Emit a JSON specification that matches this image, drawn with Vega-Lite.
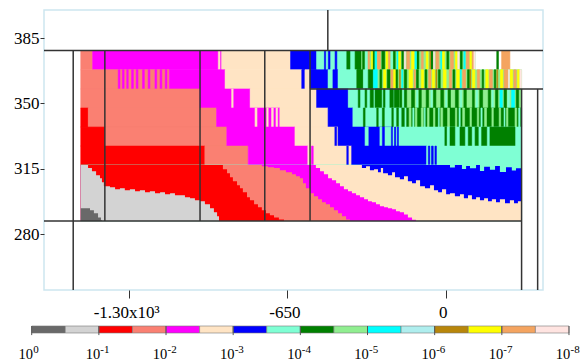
{
"$schema": "https://vega.github.io/schema/vega-lite/v6.json",
"width": 499, "height": 280,
"autosize": {"type": "none"},
"padding": {"left": 44, "top": 10, "right": 45, "bottom": 73},
"config": {
 "font": "Liberation Serif",
 "view": {"stroke": "#cde6f0", "strokeWidth": 1.5},
 "axis": {"domain": false, "grid": false, "labelFont": "Liberation Serif", "labelFontSize": 17, "labelColor": "#000", "tickColor": "#333", "labelFlush": false},
 "axisX": {"tickSize": 8, "labelPadding": 6, "labelOffset": -3},
 "axisY": {"tickSize": 4, "labelPadding": 1}
},
"datasets": {
 "rows": [{"r":1,"y":368.0,"y2":378.3},{"r":2,"y":357.7,"y2":368.0},{"r":3,"y":347.5,"y2":357.7},{"r":4,"y":337.3,"y2":347.5},{"r":5,"y":327.1,"y2":337.3},{"r":6,"y":317.0,"y2":327.1},{"r":7,"y":287.0,"y2":317.0}],
 "cells": [
  {"r":1,"x":-1499,"x2":-1450,"c":3},{"r":1,"x":-1450,"x2":-920,"c":4},{"r":1,"x":-934,"x2":-927,"c":5},{"r":1,"x":-920,"x2":-637,"c":5},{"r":1,"x":-637,"x2":-530,"c":6},{"r":1,"x":-530,"x2":-345,"c":7},
  {"r":1,"x":-498,"x2":-493,"c":6},{"r":1,"x":-482,"x2":-475,"c":6},{"r":1,"x":-454,"x2":-447,"c":6},{"r":1,"x":-406,"x2":-393,"c":8},{"r":1,"x":-372,"x2":-345,"c":8},
  {"r":1,"x":-345,"x2":121,"c":9},
  {"r":1,"x":-341,"x2":-333,"c":8},{"r":1,"x":-300,"x2":-292,"c":8},{"r":1,"x":-262,"x2":-250,"c":8},{"r":1,"x":-215,"x2":-207,"c":8},{"r":1,"x":-180,"x2":-172,"c":8},{"r":1,"x":-118,"x2":-110,"c":8},{"r":1,"x":-60,"x2":-52,"c":8},{"r":1,"x":5,"x2":13,"c":8},{"r":1,"x":60,"x2":68,"c":8},
  {"r":1,"x":-320,"x2":-312,"c":14},{"r":1,"x":-280,"x2":-268,"c":14},{"r":1,"x":-235,"x2":-227,"c":14},{"r":1,"x":-160,"x2":-148,"c":14},{"r":1,"x":-100,"x2":-92,"c":14},{"r":1,"x":-40,"x2":-28,"c":14},{"r":1,"x":20,"x2":32,"c":14},{"r":1,"x":85,"x2":97,"c":14},{"r":1,"x":108,"x2":116,"c":14},
  {"r":1,"x":-305,"x2":-300,"c":13},{"r":1,"x":-245,"x2":-238,"c":13},{"r":1,"x":-195,"x2":-185,"c":13},{"r":1,"x":-140,"x2":-130,"c":13},{"r":1,"x":-80,"x2":-72,"c":13},{"r":1,"x":-15,"x2":-5,"c":13},{"r":1,"x":40,"x2":48,"c":13},{"r":1,"x":100,"x2":106,"c":13},
  {"r":1,"x":-290,"x2":-284,"c":10},{"r":1,"x":-200,"x2":-196,"c":10},{"r":1,"x":-125,"x2":-120,"c":10},{"r":1,"x":-20,"x2":-16,"c":10},{"r":1,"x":75,"x2":80,"c":10},
  {"r":1,"x":-330,"x2":-322,"c":7},{"r":1,"x":-225,"x2":-218,"c":7},
  {"r":1,"x":-170,"x2":-165,"c":15},{"r":1,"x":-50,"x2":-45,"c":15},{"r":1,"x":50,"x2":56,"c":15},{"r":1,"x":116,"x2":121,"c":15},
  {"r":1,"x":-65,"x2":-62,"c":12},
  {"r":1,"x":210,"x2":217,"c":8},{"r":1,"x":230,"x2":264,"c":14},

  {"r":2,"x":-1499,"x2":-1135,"c":3},
  {"r":2,"x":-1345,"x2":-1338,"c":4},{"r":2,"x":-1328,"x2":-1321,"c":4},{"r":2,"x":-1310,"x2":-1304,"c":4},{"r":2,"x":-1290,"x2":-1283,"c":4},{"r":2,"x":-1271,"x2":-1264,"c":4},{"r":2,"x":-1245,"x2":-1238,"c":4},{"r":2,"x":-1222,"x2":-1215,"c":4},{"r":2,"x":-1194,"x2":-1187,"c":4},{"r":2,"x":-1173,"x2":-1166,"c":4},{"r":2,"x":-1152,"x2":-1145,"c":4},
  {"r":2,"x":-1135,"x2":-906,"c":4},{"r":2,"x":-906,"x2":-591,"c":5},{"r":2,"x":-591,"x2":-578,"c":6},{"r":2,"x":-578,"x2":-557,"c":5},{"r":2,"x":-557,"x2":-483,"c":6},{"r":2,"x":-483,"x2":-463,"c":7},{"r":2,"x":-463,"x2":-442,"c":6},{"r":2,"x":-442,"x2":-365,"c":7},{"r":2,"x":-365,"x2":-338,"c":8},{"r":2,"x":-338,"x2":-318,"c":7},{"r":2,"x":-318,"x2":-297,"c":8},{"r":2,"x":-297,"x2":-278,"c":10},
  {"r":2,"x":-278,"x2":312,"c":9},
  {"r":2,"x":-270,"x2":-262,"c":8},{"r":2,"x":-240,"x2":-228,"c":8},{"r":2,"x":-205,"x2":-197,"c":8},{"r":2,"x":-170,"x2":-160,"c":8},{"r":2,"x":-120,"x2":-112,"c":8},{"r":2,"x":-85,"x2":-77,"c":8},{"r":2,"x":-30,"x2":-22,"c":8},{"r":2,"x":30,"x2":38,"c":8},{"r":2,"x":90,"x2":98,"c":8},{"r":2,"x":150,"x2":156,"c":8},{"r":2,"x":200,"x2":206,"c":8},
  {"r":2,"x":-255,"x2":-245,"c":13},{"r":2,"x":-215,"x2":-207,"c":13},{"r":2,"x":-150,"x2":-136,"c":13},{"r":2,"x":-100,"x2":-90,"c":13},{"r":2,"x":-55,"x2":-45,"c":13},{"r":2,"x":-10,"x2":2,"c":13},{"r":2,"x":45,"x2":57,"c":13},{"r":2,"x":110,"x2":120,"c":13},{"r":2,"x":165,"x2":175,"c":13},{"r":2,"x":225,"x2":235,"c":13},{"r":2,"x":265,"x2":275,"c":13},{"r":2,"x":295,"x2":303,"c":13},
  {"r":2,"x":-225,"x2":-217,"c":14},{"r":2,"x":-130,"x2":-124,"c":14},{"r":2,"x":-70,"x2":-60,"c":14},{"r":2,"x":15,"x2":25,"c":14},{"r":2,"x":70,"x2":82,"c":14},{"r":2,"x":130,"x2":140,"c":14},{"r":2,"x":180,"x2":192,"c":14},{"r":2,"x":240,"x2":256,"c":14},{"r":2,"x":280,"x2":290,"c":14},
  {"r":2,"x":-190,"x2":-186,"c":12},{"r":2,"x":-40,"x2":-36,"c":12},{"r":2,"x":100,"x2":104,"c":12},{"r":2,"x":210,"x2":214,"c":12},
  {"r":2,"x":-180,"x2":-176,"c":10},{"r":2,"x":60,"x2":64,"c":10},
  {"r":2,"x":258,"x2":262,"c":15},{"r":2,"x":305,"x2":312,"c":15},

  {"r":3,"x":-1499,"x2":-1009,"c":3},{"r":3,"x":-1009,"x2":-803,"c":4},{"r":3,"x":-879,"x2":-873,"c":5},{"r":3,"x":-803,"x2":-530,"c":5},{"r":3,"x":-530,"x2":-400,"c":6},{"r":3,"x":-400,"x2":-188,"c":7},
  {"r":3,"x":-359,"x2":-352,"c":8},{"r":3,"x":-331,"x2":-324,"c":8},{"r":3,"x":-310,"x2":-297,"c":8},{"r":3,"x":-290,"x2":-263,"c":8},{"r":3,"x":-256,"x2":-249,"c":8},{"r":3,"x":-229,"x2":-215,"c":8},{"r":3,"x":-211,"x2":-188,"c":8},
  {"r":3,"x":-188,"x2":312,"c":9},
  {"r":3,"x":-188,"x2":-180,"c":8},{"r":3,"x":-172,"x2":-160,"c":8},{"r":3,"x":-140,"x2":-128,"c":8},{"r":3,"x":-110,"x2":-100,"c":8},{"r":3,"x":-80,"x2":-70,"c":8},{"r":3,"x":-50,"x2":-40,"c":8},{"r":3,"x":-20,"x2":-8,"c":8},{"r":3,"x":10,"x2":20,"c":8},{"r":3,"x":40,"x2":52,"c":8},{"r":3,"x":75,"x2":85,"c":8},{"r":3,"x":110,"x2":118,"c":8},{"r":3,"x":140,"x2":152,"c":8},{"r":3,"x":175,"x2":185,"c":8},{"r":3,"x":205,"x2":215,"c":8},{"r":3,"x":240,"x2":250,"c":8},{"r":3,"x":290,"x2":300,"c":8},
  {"r":3,"x":-176,"x2":-172,"c":7},{"r":3,"x":-120,"x2":-114,"c":7},{"r":3,"x":-60,"x2":-55,"c":7},{"r":3,"x":0,"x2":5,"c":7},{"r":3,"x":60,"x2":66,"c":7},{"r":3,"x":125,"x2":132,"c":7},{"r":3,"x":190,"x2":196,"c":7},{"r":3,"x":255,"x2":262,"c":7},
  {"r":3,"x":223,"x2":233,"c":10},{"r":3,"x":271,"x2":283,"c":10},

  {"r":4,"x":-1499,"x2":-1468,"c":2},{"r":4,"x":-1468,"x2":-941,"c":3},{"r":4,"x":-941,"x2":-681,"c":4},
  {"r":4,"x":-783,"x2":-775,"c":5},{"r":4,"x":-735,"x2":-729,"c":5},{"r":4,"x":-715,"x2":-708,"c":5},{"r":4,"x":-697,"x2":-690,"c":5},
  {"r":4,"x":-681,"x2":-483,"c":5},{"r":4,"x":-483,"x2":-381,"c":6},{"r":4,"x":-381,"x2":-160,"c":7},
  {"r":4,"x":-338,"x2":-331,"c":8},{"r":4,"x":-283,"x2":-277,"c":8},{"r":4,"x":-260,"x2":-252,"c":8},{"r":4,"x":-221,"x2":-215,"c":8},{"r":4,"x":-201,"x2":-194,"c":8},{"r":4,"x":-180,"x2":-170,"c":8},
  {"r":4,"x":-160,"x2":312,"c":8},
  {"r":4,"x":-150,"x2":-142,"c":9},{"r":4,"x":-125,"x2":-118,"c":9},{"r":4,"x":-100,"x2":-92,"c":9},{"r":4,"x":-75,"x2":-68,"c":9},{"r":4,"x":-50,"x2":-44,"c":9},{"r":4,"x":-20,"x2":-12,"c":9},{"r":4,"x":8,"x2":16,"c":9},{"r":4,"x":40,"x2":46,"c":9},{"r":4,"x":70,"x2":78,"c":9},{"r":4,"x":100,"x2":106,"c":9},{"r":4,"x":130,"x2":136,"c":9},{"r":4,"x":160,"x2":168,"c":9},{"r":4,"x":190,"x2":196,"c":9},{"r":4,"x":220,"x2":226,"c":9},{"r":4,"x":250,"x2":256,"c":9},{"r":4,"x":285,"x2":292,"c":9},
  {"r":4,"x":-135,"x2":-130,"c":7},{"r":4,"x":-88,"x2":-84,"c":7},{"r":4,"x":-30,"x2":-26,"c":7},{"r":4,"x":55,"x2":60,"c":7},{"r":4,"x":145,"x2":150,"c":7},{"r":4,"x":240,"x2":244,"c":7},{"r":4,"x":300,"x2":306,"c":7},

  {"r":5,"x":-1499,"x2":-1399,"c":2},{"r":5,"x":-1399,"x2":-899,"c":3},{"r":5,"x":-899,"x2":-619,"c":4},{"r":5,"x":-619,"x2":-442,"c":5},{"r":5,"x":-455,"x2":-448,"c":6},{"r":5,"x":-442,"x2":-216,"c":6},
  {"r":5,"x":-331,"x2":-318,"c":7},{"r":5,"x":-270,"x2":-262,"c":7},{"r":5,"x":-249,"x2":-225,"c":7},
  {"r":5,"x":-216,"x2":312,"c":7},
  {"r":5,"x":-210,"x2":-205,"c":6},{"r":5,"x":-198,"x2":-194,"c":6},
  {"r":5,"x":-3,"x2":4,"c":8},{"r":5,"x":18,"x2":38,"c":8},{"r":5,"x":59,"x2":79,"c":8},{"r":5,"x":93,"x2":107,"c":8},{"r":5,"x":121,"x2":134,"c":8},{"r":5,"x":148,"x2":169,"c":8},{"r":5,"x":182,"x2":285,"c":8},

  {"r":6,"x":-1499,"x2":-989,"c":2},{"r":6,"x":-989,"x2":-811,"c":3},{"r":6,"x":-811,"x2":-566,"c":4},{"r":6,"x":-566,"x2":-386,"c":5},{"r":6,"x":-551,"x2":-544,"c":4},{"r":6,"x":-406,"x2":-400,"c":6},{"r":6,"x":-386,"x2":-78,"c":6},{"r":6,"x":-78,"x2":312,"c":7},
  {"r":6,"x":-71,"x2":-65,"c":6},{"r":6,"x":-58,"x2":-51,"c":6},{"r":6,"x":-44,"x2":-38,"c":6},

  {"r":7,"x":-1499,"x2":312,"c":7}
 ],
 "bnd": [
  {"c":6,"x":-1499,"y":317},{"c":6,"x":18,"y":315.6},{"c":6,"x":38,"y":317},{"c":6,"x":67,"y":314.8},{"c":6,"x":84,"y":316.4},{"c":6,"x":100,"y":315.2},{"c":6,"x":125,"y":317},{"c":6,"x":141,"y":313.8},{"c":6,"x":158,"y":316},{"c":6,"x":182,"y":314.4},{"c":6,"x":203,"y":316.4},{"c":6,"x":223,"y":313.2},{"c":6,"x":248,"y":315.7},{"c":6,"x":272,"y":314.0},{"c":6,"x":289,"y":315.2},{"c":6,"x":312,"y":314.2},

  {"c":5,"x":-1499,"y":317},{"c":5,"x":-364,"y":317},{"c":5,"x":-344,"y":315.3},{"c":5,"x":-327,"y":316.3},{"c":5,"x":-311,"y":314.2},{"c":5,"x":-294,"y":314.7},{"c":5,"x":-278,"y":313.1},{"c":5,"x":-266,"y":315.3},{"c":5,"x":-257,"y":312.6},{"c":5,"x":-237,"y":311.5},{"c":5,"x":-220,"y":313.1},{"c":5,"x":-208,"y":310.4},{"c":5,"x":-188,"y":309.3},{"c":5,"x":-171,"y":311.0},{"c":5,"x":-155,"y":308.3},{"c":5,"x":-138,"y":307.2},{"c":5,"x":-122,"y":308.8},{"c":5,"x":-105,"y":305.6},{"c":5,"x":-85,"y":304.5},{"c":5,"x":-64,"y":306.1},{"c":5,"x":-48,"y":303.4},{"c":5,"x":-31,"y":302.4},{"c":5,"x":-15,"y":304.0},{"c":5,"x":2,"y":301.3},{"c":5,"x":18,"y":301.8},{"c":5,"x":38,"y":300.2},{"c":5,"x":59,"y":301.3},{"c":5,"x":75,"y":299.1},{"c":5,"x":92,"y":300.7},{"c":5,"x":108,"y":298.6},{"c":5,"x":125,"y":299.7},{"c":5,"x":141,"y":298.1},{"c":5,"x":158,"y":299.1},{"c":5,"x":174,"y":297.5},{"c":5,"x":190,"y":298.6},{"c":5,"x":207,"y":297.0},{"c":5,"x":223,"y":298.6},{"c":5,"x":244,"y":296.5},{"c":5,"x":264,"y":298.1},{"c":5,"x":281,"y":296.5},{"c":5,"x":297,"y":297.5},{"c":5,"x":312,"y":296.5},

  {"c":4,"x":-1499,"y":317},{"c":4,"x":-557,"y":317},{"c":4,"x":-533,"y":315.3},{"c":4,"x":-516,"y":313.6},{"c":4,"x":-500,"y":312.0},{"c":4,"x":-483,"y":309.9},{"c":4,"x":-467,"y":308.8},{"c":4,"x":-450,"y":307.2},{"c":4,"x":-434,"y":305.6},{"c":4,"x":-418,"y":304.0},{"c":4,"x":-401,"y":302.9},{"c":4,"x":-385,"y":301.8},{"c":4,"x":-368,"y":300.7},{"c":4,"x":-352,"y":299.7},{"c":4,"x":-335,"y":298.6},{"c":4,"x":-319,"y":297.5},{"c":4,"x":-303,"y":297.0},{"c":4,"x":-286,"y":295.9},{"c":4,"x":-270,"y":294.8},{"c":4,"x":-253,"y":294.3},{"c":4,"x":-237,"y":293.8},{"c":4,"x":-220,"y":293.2},{"c":4,"x":-204,"y":292.2},{"c":4,"x":-188,"y":291.6},{"c":4,"x":-171,"y":290.5},{"c":4,"x":-155,"y":288.9},{"c":4,"x":-138,"y":287.6},{"c":4,"x":-122,"y":287.0},

  {"c":3,"x":-1499,"y":317},{"c":3,"x":-779,"y":317},{"c":3,"x":-755,"y":316.3},{"c":3,"x":-730,"y":315.8},{"c":3,"x":-705,"y":315.3},{"c":3,"x":-681,"y":314.2},{"c":3,"x":-656,"y":313.1},{"c":3,"x":-631,"y":312.0},{"c":3,"x":-615,"y":311.0},{"c":3,"x":-599,"y":309.9},{"c":3,"x":-586,"y":307.2},{"c":3,"x":-574,"y":304.5},{"c":3,"x":-557,"y":301.8},{"c":3,"x":-541,"y":300.2},{"c":3,"x":-524,"y":298.6},{"c":3,"x":-508,"y":297.0},{"c":3,"x":-492,"y":295.9},{"c":3,"x":-475,"y":294.3},{"c":3,"x":-459,"y":292.7},{"c":3,"x":-442,"y":291.1},{"c":3,"x":-426,"y":289.5},{"c":3,"x":-409,"y":287.8},{"c":3,"x":-393,"y":287.0},

  {"c":2,"x":-1499,"y":317},{"c":2,"x":-927,"y":317},{"c":2,"x":-915,"y":314.7},{"c":2,"x":-898,"y":312.6},{"c":2,"x":-886,"y":310.4},{"c":2,"x":-874,"y":308.3},{"c":2,"x":-857,"y":306.1},{"c":2,"x":-845,"y":304.5},{"c":2,"x":-833,"y":302.4},{"c":2,"x":-816,"y":299.7},{"c":2,"x":-804,"y":298.1},{"c":2,"x":-787,"y":295.9},{"c":2,"x":-771,"y":294.3},{"c":2,"x":-755,"y":292.7},{"c":2,"x":-738,"y":291.1},{"c":2,"x":-722,"y":290.0},{"c":2,"x":-705,"y":288.9},{"c":2,"x":-685,"y":287.8},{"c":2,"x":-664,"y":287.0},

  {"c":1,"x":-1499,"y":317},{"c":1,"x":-1482,"y":317},{"c":1,"x":-1469,"y":315.3},{"c":1,"x":-1453,"y":313.6},{"c":1,"x":-1436,"y":311.5},{"c":1,"x":-1420,"y":309.9},{"c":1,"x":-1412,"y":307.7},{"c":1,"x":-1404,"y":305.6},{"c":1,"x":-1379,"y":305.0},{"c":1,"x":-1358,"y":304.0},{"c":1,"x":-1338,"y":304.5},{"c":1,"x":-1318,"y":303.4},{"c":1,"x":-1297,"y":304.0},{"c":1,"x":-1276,"y":302.9},{"c":1,"x":-1256,"y":303.4},{"c":1,"x":-1235,"y":302.4},{"c":1,"x":-1215,"y":302.9},{"c":1,"x":-1194,"y":301.8},{"c":1,"x":-1173,"y":302.4},{"c":1,"x":-1153,"y":301.3},{"c":1,"x":-1132,"y":301.8},{"c":1,"x":-1112,"y":300.7},{"c":1,"x":-1091,"y":300.7},{"c":1,"x":-1071,"y":299.7},{"c":1,"x":-1050,"y":299.1},{"c":1,"x":-1030,"y":298.1},{"c":1,"x":-1009,"y":297.5},{"c":1,"x":-989,"y":295.9},{"c":1,"x":-968,"y":293.8},{"c":1,"x":-952,"y":291.6},{"c":1,"x":-939,"y":289.5},{"c":1,"x":-931,"y":287.0},

  {"c":0,"x":-1499,"y":293.8},{"c":0,"x":-1469,"y":293.8},{"c":0,"x":-1461,"y":292.7},{"c":0,"x":-1445,"y":291.1},{"c":0,"x":-1428,"y":288.9},{"c":0,"x":-1416,"y":287.3},{"c":0,"x":-1412,"y":287.0}
 ],
 "lines": [
  {"x":-1650,"x2":400,"y":378.3,"y2":378.3},{"x":-557,"x2":400,"y":357.7,"y2":357.7},{"x":-1650,"x2":312,"y":287.0,"y2":287.0},
  {"x":-1530,"x2":-1530,"y":250,"y2":378.3},{"x":-1400,"x2":-1400,"y":287.0,"y2":378.3},{"x":-1009,"x2":-1009,"y":287.0,"y2":378.3},{"x":-743,"x2":-743,"y":287.0,"y2":378.3},{"x":-557,"x2":-557,"y":287.0,"y2":378.3},
  {"x":-484,"x2":-484,"y":378.3,"y2":400},{"x":312,"x2":312,"y":250,"y2":357.7},{"x":378,"x2":378,"y":250,"y2":357.7}
 ],
 "leg": [{"i":0,"i2":1,"c":0},{"i":1,"i2":2,"c":1},{"i":2,"i2":3,"c":2},{"i":3,"i2":4,"c":3},{"i":4,"i2":5,"c":4},{"i":5,"i2":6,"c":5},{"i":6,"i2":7,"c":6},{"i":7,"i2":8,"c":7},{"i":8,"i2":9,"c":8},{"i":9,"i2":10,"c":9},{"i":10,"i2":11,"c":10},{"i":11,"i2":12,"c":11},{"i":12,"i2":13,"c":12},{"i":13,"i2":14,"c":13},{"i":14,"i2":15,"c":14},{"i":15,"i2":16,"c":15}],
 "legtick": [{"v":0,"e":"0"},{"v":2,"e":"-1"},{"v":4,"e":"-2"},{"v":6,"e":"-3"},{"v":8,"e":"-4"},{"v":10,"e":"-5"},{"v":12,"e":"-6"},{"v":14,"e":"-7"},{"v":16,"e":"-8"}]
},
"layer": [
 {"layer": [
  {"data": {"name": "cells"},
   "transform": [{"lookup": "r", "from": {"data": {"name": "rows"}, "key": "r", "fields": ["y", "y2"]}}],
   "mark": {"type": "rect", "strokeWidth": 0.6},
   "encoding": {
    "x": {"field": "x", "type": "quantitative", "title": null, "scale": {"domain": [-1650, 400], "nice": false, "zero": false},
          "axis": {"values": [-1300, -650, 0], "labelExpr": "datum.value == -1300 ? '-1.30x10³' : datum.value == -650 ? '-650' : '0'"}},
    "x2": {"field": "x2"},
    "y": {"field": "y", "type": "quantitative", "title": null, "scale": {"domain": [250, 400], "nice": false, "zero": false},
          "axis": {"values": [280, 315, 350, 385]}},
    "y2": {"field": "y2"},
    "color": {"field": "c", "type": "ordinal", "legend": null, "scale": {"domain": [0,1,2,3,4,5,6,7,8,9,10,11,12,13,14,15], "range": ["#696969","#d3d3d3","#ff0000","#fa8072","#ff00ff","#ffe4c4","#0000ff","#7fffd4","#008000","#90ee90","#00ffff","#afeeee","#b8860b","#ffff00","#f4a460","#ffe4e1"]}},
    "stroke": {"field": "c", "type": "ordinal", "legend": null, "scale": {"domain": [0,1,2,3,4,5,6,7,8,9,10,11,12,13,14,15], "range": ["#696969","#d3d3d3","#ff0000","#fa8072","#ff00ff","#ffe4c4","#0000ff","#7fffd4","#008000","#90ee90","#00ffff","#afeeee","#b8860b","#ffff00","#f4a460","#ffe4e1"]}}
   }},
  {"data": {"name": "bnd"}, "transform": [{"filter": "datum.c == 6"}], "mark": {"type": "area", "interpolate": "step-after"},
   "encoding": {"x": {"field": "x", "type": "quantitative", "title": null, "scale": {"domain": [-1650, 400], "nice": false, "zero": false}},
    "y": {"field": "y", "type": "quantitative", "stack": null, "title": null, "scale": {"domain": [250, 400], "nice": false, "zero": false}},
    "y2": {"datum": 287},
    "color": {"field": "c", "type": "ordinal", "legend": null, "scale": {"domain": [0,1,2,3,4,5,6,7,8,9,10,11,12,13,14,15], "range": ["#696969","#d3d3d3","#ff0000","#fa8072","#ff00ff","#ffe4c4","#0000ff","#7fffd4","#008000","#90ee90","#00ffff","#afeeee","#b8860b","#ffff00","#f4a460","#ffe4e1"]}}}},
  {"data": {"name": "bnd"}, "transform": [{"filter": "datum.c == 5"}], "mark": {"type": "area", "interpolate": "step-after"},
   "encoding": {"x": {"field": "x", "type": "quantitative", "title": null, "scale": {"domain": [-1650, 400], "nice": false, "zero": false}},
    "y": {"field": "y", "type": "quantitative", "stack": null, "title": null, "scale": {"domain": [250, 400], "nice": false, "zero": false}},
    "y2": {"datum": 287},
    "color": {"field": "c", "type": "ordinal", "legend": null, "scale": {"domain": [0,1,2,3,4,5,6,7,8,9,10,11,12,13,14,15], "range": ["#696969","#d3d3d3","#ff0000","#fa8072","#ff00ff","#ffe4c4","#0000ff","#7fffd4","#008000","#90ee90","#00ffff","#afeeee","#b8860b","#ffff00","#f4a460","#ffe4e1"]}}}},
  {"data": {"name": "bnd"}, "transform": [{"filter": "datum.c == 4"}], "mark": {"type": "area", "interpolate": "step-after"},
   "encoding": {"x": {"field": "x", "type": "quantitative", "title": null, "scale": {"domain": [-1650, 400], "nice": false, "zero": false}},
    "y": {"field": "y", "type": "quantitative", "stack": null, "title": null, "scale": {"domain": [250, 400], "nice": false, "zero": false}},
    "y2": {"datum": 287},
    "color": {"field": "c", "type": "ordinal", "legend": null, "scale": {"domain": [0,1,2,3,4,5,6,7,8,9,10,11,12,13,14,15], "range": ["#696969","#d3d3d3","#ff0000","#fa8072","#ff00ff","#ffe4c4","#0000ff","#7fffd4","#008000","#90ee90","#00ffff","#afeeee","#b8860b","#ffff00","#f4a460","#ffe4e1"]}}}},
  {"data": {"name": "bnd"}, "transform": [{"filter": "datum.c == 3"}], "mark": {"type": "area", "interpolate": "step-after"},
   "encoding": {"x": {"field": "x", "type": "quantitative", "title": null, "scale": {"domain": [-1650, 400], "nice": false, "zero": false}},
    "y": {"field": "y", "type": "quantitative", "stack": null, "title": null, "scale": {"domain": [250, 400], "nice": false, "zero": false}},
    "y2": {"datum": 287},
    "color": {"field": "c", "type": "ordinal", "legend": null, "scale": {"domain": [0,1,2,3,4,5,6,7,8,9,10,11,12,13,14,15], "range": ["#696969","#d3d3d3","#ff0000","#fa8072","#ff00ff","#ffe4c4","#0000ff","#7fffd4","#008000","#90ee90","#00ffff","#afeeee","#b8860b","#ffff00","#f4a460","#ffe4e1"]}}}},
  {"data": {"name": "bnd"}, "transform": [{"filter": "datum.c == 2"}], "mark": {"type": "area", "interpolate": "step-after"},
   "encoding": {"x": {"field": "x", "type": "quantitative", "title": null, "scale": {"domain": [-1650, 400], "nice": false, "zero": false}},
    "y": {"field": "y", "type": "quantitative", "stack": null, "title": null, "scale": {"domain": [250, 400], "nice": false, "zero": false}},
    "y2": {"datum": 287},
    "color": {"field": "c", "type": "ordinal", "legend": null, "scale": {"domain": [0,1,2,3,4,5,6,7,8,9,10,11,12,13,14,15], "range": ["#696969","#d3d3d3","#ff0000","#fa8072","#ff00ff","#ffe4c4","#0000ff","#7fffd4","#008000","#90ee90","#00ffff","#afeeee","#b8860b","#ffff00","#f4a460","#ffe4e1"]}}}},
  {"data": {"name": "bnd"}, "transform": [{"filter": "datum.c == 1"}], "mark": {"type": "area", "interpolate": "step-after"},
   "encoding": {"x": {"field": "x", "type": "quantitative", "title": null, "scale": {"domain": [-1650, 400], "nice": false, "zero": false}},
    "y": {"field": "y", "type": "quantitative", "stack": null, "title": null, "scale": {"domain": [250, 400], "nice": false, "zero": false}},
    "y2": {"datum": 287},
    "color": {"field": "c", "type": "ordinal", "legend": null, "scale": {"domain": [0,1,2,3,4,5,6,7,8,9,10,11,12,13,14,15], "range": ["#696969","#d3d3d3","#ff0000","#fa8072","#ff00ff","#ffe4c4","#0000ff","#7fffd4","#008000","#90ee90","#00ffff","#afeeee","#b8860b","#ffff00","#f4a460","#ffe4e1"]}}}},
  {"data": {"name": "bnd"}, "transform": [{"filter": "datum.c == 0"}], "mark": {"type": "area", "interpolate": "step-after"},
   "encoding": {"x": {"field": "x", "type": "quantitative", "title": null, "scale": {"domain": [-1650, 400], "nice": false, "zero": false}},
    "y": {"field": "y", "type": "quantitative", "stack": null, "title": null, "scale": {"domain": [250, 400], "nice": false, "zero": false}},
    "y2": {"datum": 287},
    "color": {"field": "c", "type": "ordinal", "legend": null, "scale": {"domain": [0,1,2,3,4,5,6,7,8,9,10,11,12,13,14,15], "range": ["#696969","#d3d3d3","#ff0000","#fa8072","#ff00ff","#ffe4c4","#0000ff","#7fffd4","#008000","#90ee90","#00ffff","#afeeee","#b8860b","#ffff00","#f4a460","#ffe4e1"]}}}},
  {"data": {"name": "lines"}, "mark": {"type": "rule", "color": "#333", "strokeWidth": 1.5},
   "encoding": {"x": {"field": "x", "type": "quantitative", "title": null, "scale": {"domain": [-1650, 400], "nice": false, "zero": false}},
    "x2": {"field": "x2"},
    "y": {"field": "y", "type": "quantitative", "title": null, "scale": {"domain": [250, 400], "nice": false, "zero": false}},
    "y2": {"field": "y2"}}}
 ]},
 {"layer": [
  {"data": {"name": "leg"}, "mark": {"type": "rect", "stroke": "#777", "strokeWidth": 0.6},
   "encoding": {"x": {"field": "i", "type": "quantitative", "axis": null, "scale": {"domain": [0.3663, 15.226], "nice": false, "zero": false}},
    "x2": {"field": "i2"},
    "y": {"datum": 0, "type": "quantitative", "axis": null, "scale": {"domain": [6.143, 46.143], "nice": false, "zero": false}},
    "y2": {"datum": 1},
    "color": {"field": "c", "type": "ordinal", "legend": null, "scale": {"domain": [0,1,2,3,4,5,6,7,8,9,10,11,12,13,14,15], "range": ["#696969","#d3d3d3","#ff0000","#fa8072","#ff00ff","#ffe4c4","#0000ff","#7fffd4","#008000","#90ee90","#00ffff","#afeeee","#b8860b","#ffff00","#f4a460","#ffe4e1"]}}}},
  {"data": {"name": "legtick"}, "mark": {"type": "rule", "color": "#555", "strokeWidth": 1},
   "encoding": {"x": {"field": "v", "type": "quantitative", "axis": null, "scale": {"domain": [0.3663, 15.226], "nice": false, "zero": false}},
    "y": {"datum": -0.3, "type": "quantitative", "axis": null, "scale": {"domain": [6.143, 46.143], "nice": false, "zero": false}},
    "y2": {"datum": 1}}},
  {"data": {"name": "legtick"}, "mark": {"type": "text", "text": "10", "align": "right", "baseline": "alphabetic", "dx": 1.3, "dy": 26, "fontSize": 14.5, "font": "Liberation Serif", "color": "#000"},
   "encoding": {"x": {"field": "v", "type": "quantitative", "axis": null, "scale": {"domain": [0.3663, 15.226], "nice": false, "zero": false}},
    "y": {"datum": 0, "type": "quantitative", "axis": null, "scale": {"domain": [6.143, 46.143], "nice": false, "zero": false}}}},
  {"data": {"name": "legtick"}, "mark": {"type": "text", "align": "left", "baseline": "alphabetic", "dx": 1.5, "dy": 20, "fontSize": 11, "font": "Liberation Serif", "color": "#000"},
   "encoding": {"x": {"field": "v", "type": "quantitative", "axis": null, "scale": {"domain": [0.3663, 15.226], "nice": false, "zero": false}},
    "y": {"datum": 0, "type": "quantitative", "axis": null, "scale": {"domain": [6.143, 46.143], "nice": false, "zero": false}},
    "text": {"field": "e"}}}
 ]}
],
"resolve": {"scale": {"x": "independent", "y": "independent"}}
}
